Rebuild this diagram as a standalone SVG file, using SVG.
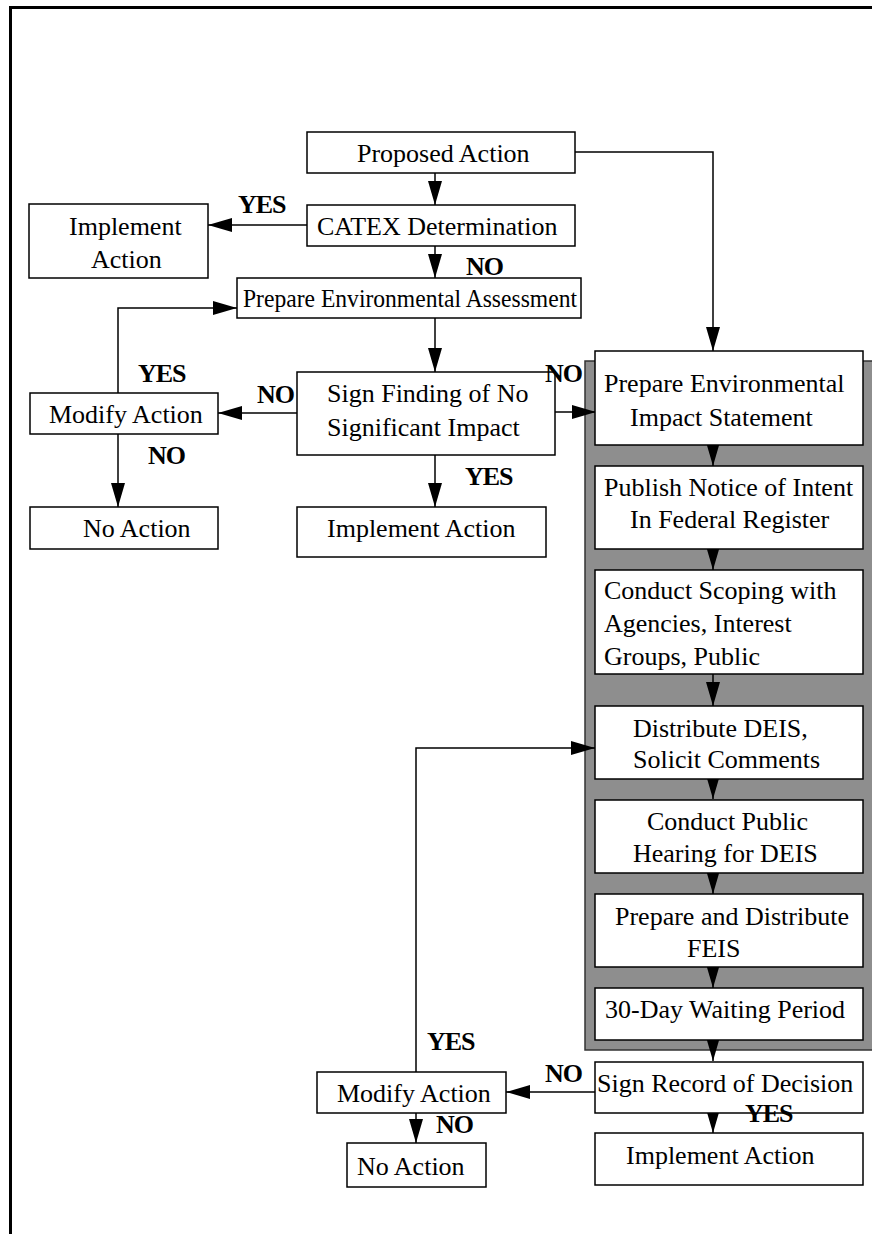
<svg xmlns="http://www.w3.org/2000/svg" width="872" height="1234" viewBox="0 0 872 1234">
<defs>
<marker id="ah" markerUnits="userSpaceOnUse" markerWidth="24" markerHeight="14" refX="24" refY="7" orient="auto">
<path d="M0,0 L24,7 L0,14 z" fill="#000"/>
</marker>
<style>
.b{fill:#fff;stroke:#000;stroke-width:1.5}
.t{font-family:"Liberation Serif","Times New Roman",serif;font-size:26px;fill:#000}
.l{font-family:"Liberation Serif","Times New Roman",serif;font-size:26px;font-weight:bold;fill:#000;letter-spacing:-1px}
.c{fill:none;stroke:#000;stroke-width:1.5;marker-end:url(#ah)}
</style>
</defs>
<rect width="872" height="1234" fill="#fff"/>
<g id="frame">
<path d="M10.5,1234 V7.5 H872" fill="none" stroke="#000" stroke-width="3"/>
</g>
<g id="eis-panel">
<rect x="585" y="361" width="300" height="689" fill="#8e8e8e" stroke="#333" stroke-width="1.5"/>
</g>
<g id="connectors">
<path class="c" d="M435,173 V205"/>
<path class="c" d="M307,225 H208"/>
<path class="c" d="M435,246 V278"/>
<path class="c" d="M435,318 V372"/>
<path class="c" d="M297,413 H218"/>
<path class="c" d="M118,393 V308 H237"/>
<path class="c" d="M118,434 V507"/>
<path class="c" d="M435,455 V507"/>
<path class="c" d="M555,412 H596"/>
<path class="c" d="M575,152 H713 V351"/>
<path class="c" d="M713,445 V466"/>
<path class="c" d="M713,549 V570"/>
<path class="c" d="M713,674 V706"/>
<path class="c" d="M713,779 V799"/>
<path class="c" d="M713,873 V894"/>
<path class="c" d="M713,967 V988"/>
<path class="c" d="M713,1040 V1061"/>
<path class="c" d="M713,1113 V1133"/>
<path class="c" d="M595,1092 H506"/>
<path class="c" d="M416,1072 V748 H595"/>
<path class="c" d="M416,1113 V1143"/>
</g>
<g id="proposed-action">
<rect class="b" x="307" y="132" width="268" height="41"/>
<text class="t" x="357" y="162">Proposed Action</text>
</g>
<g id="catex">
<rect class="b" x="307" y="205" width="268" height="41"/>
<text class="t" x="317" y="235">CATEX Determination</text>
</g>
<g id="implement-1">
<rect class="b" x="29" y="204" width="179" height="74"/>
<text class="t" x="69" y="235">Implement</text>
<text class="t" x="91" y="268">Action</text>
</g>
<g id="prepare-ea">
<rect class="b" x="237" y="278" width="344" height="40"/>
<text class="t" x="243" y="307" textLength="334" lengthAdjust="spacingAndGlyphs">Prepare Environmental Assessment</text>
</g>
<g id="sign-fonsi">
<rect class="b" x="297" y="372" width="258" height="83"/>
<text class="t" x="327" y="402">Sign Finding of No</text>
<text class="t" x="327" y="436">Significant Impact</text>
</g>
<g id="modify-1">
<rect class="b" x="30" y="393" width="188" height="41"/>
<text class="t" x="49" y="423">Modify Action</text>
</g>
<g id="no-action-1">
<rect class="b" x="30" y="507" width="188" height="42"/>
<text class="t" x="83" y="537">No Action</text>
</g>
<g id="implement-2">
<rect class="b" x="297" y="507" width="249" height="50"/>
<text class="t" x="327" y="537">Implement Action</text>
</g>
<g id="prepare-eis">
<rect class="b" x="595" y="351" width="268" height="94"/>
<text class="t" x="604" y="392">Prepare Environmental</text>
<text class="t" x="630" y="426">Impact Statement</text>
</g>
<g id="publish-noi">
<rect class="b" x="595" y="466" width="268" height="83"/>
<text class="t" x="604" y="496">Publish Notice of Intent</text>
<text class="t" x="630" y="528">In Federal Register</text>
</g>
<g id="scoping">
<rect class="b" x="595" y="570" width="268" height="104"/>
<text class="t" x="604" y="599">Conduct Scoping with</text>
<text class="t" x="604" y="632">Agencies, Interest</text>
<text class="t" x="604" y="665">Groups, Public</text>
</g>
<g id="distribute-deis">
<rect class="b" x="595" y="706" width="268" height="73"/>
<text class="t" x="633" y="737">Distribute DEIS,</text>
<text class="t" x="633" y="768">Solicit Comments</text>
</g>
<g id="public-hearing">
<rect class="b" x="595" y="800" width="268" height="73"/>
<text class="t" x="647" y="830">Conduct Public</text>
<text class="t" x="633" y="862">Hearing for DEIS</text>
</g>
<g id="feis">
<rect class="b" x="595" y="894" width="268" height="73"/>
<text class="t" x="615" y="925">Prepare and Distribute</text>
<text class="t" x="687" y="957">FEIS</text>
</g>
<g id="waiting">
<rect class="b" x="595" y="988" width="268" height="52"/>
<text class="t" x="605" y="1018">30-Day Waiting Period</text>
</g>
<g id="rod">
<rect class="b" x="595" y="1062" width="268" height="51"/>
<text class="t" x="597" y="1092">Sign Record of Decision</text>
</g>
<g id="implement-3">
<rect class="b" x="595" y="1133" width="268" height="52"/>
<text class="t" x="626" y="1164">Implement Action</text>
</g>
<g id="modify-2">
<rect class="b" x="317" y="1072" width="189" height="41"/>
<text class="t" x="337" y="1102">Modify Action</text>
</g>
<g id="no-action-2">
<rect class="b" x="347" y="1143" width="139" height="44"/>
<text class="t" x="357" y="1175">No Action</text>
</g>
<g id="labels">
<text class="l" x="238" y="213">YES</text>
<text class="l" x="466" y="275">NO</text>
<text class="l" x="138" y="382">YES</text>
<text class="l" x="257" y="403">NO</text>
<text class="l" x="148" y="464">NO</text>
<text class="l" x="545" y="382">NO</text>
<text class="l" x="465" y="485">YES</text>
<text class="l" x="427" y="1050">YES</text>
<text class="l" x="545" y="1082">NO</text>
<text class="l" x="436" y="1133">NO</text>
<text class="l" x="745" y="1122">YES</text>
</g>
</svg>
